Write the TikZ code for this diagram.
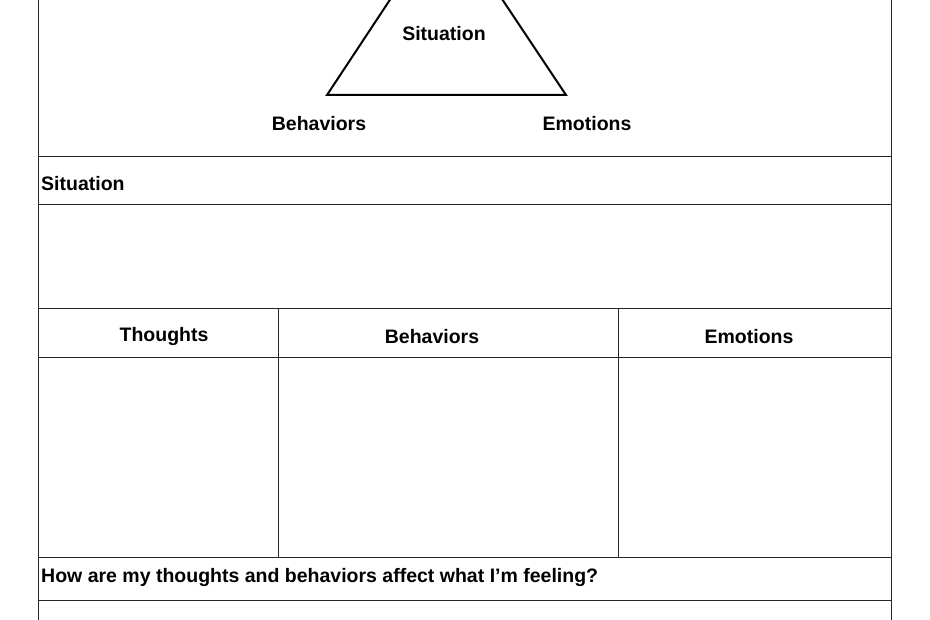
\documentclass[tikz,border=0pt]{standalone}
\usepackage{fontspec}
\setmainfont{Liberation Sans}
\usetikzlibrary{positioning}

\begin{document}
\begin{tikzpicture}[x=1pt,y=-1pt,font=\fontsize{19.5}{22}\selectfont\bfseries]
\useasboundingbox (0,0) rectangle (930,620);
\tikzset{rule/.style={draw=black!85, line width=1pt}, lbl/.style={inner sep=0pt}}

% triangle, apex cut off by the page
\begin{scope}
\clip (0,0) rectangle (930,620);
\draw[line width=2pt] (327,95) -- (446,-85) -- (566,95) -- cycle;
\end{scope}
\node[lbl] (tsit) at (444,34) {Situation};
\node[lbl] (tbeh) at (319,124) {Behaviors};
\node[lbl] (temo) at (587,124) {Emotions};

% frame and rows
\draw[rule] (38,0) -- (38,620);
\draw[rule] (891,0) -- (891,620);
\foreach \y in {157,205,309,358,557,600}
  \draw[rule] (38,\y) -- (891,\y);
\draw[rule] (278,309) -- (278,557);
\draw[rule] (618,309) -- (618,557);

\node[lbl, anchor=west] (sit) at (41,184) {Situation};
\node[lbl] (th) at (164,337) {Thoughts};
\node[lbl] (be) at (432,337) {Behaviors};
\node[lbl] (em) at (749,337) {Emotions};
\node[lbl, anchor=west] (q) at (41,578) {How are my thoughts and behaviors affect what I’m feeling?};
\end{tikzpicture}
\end{document}
